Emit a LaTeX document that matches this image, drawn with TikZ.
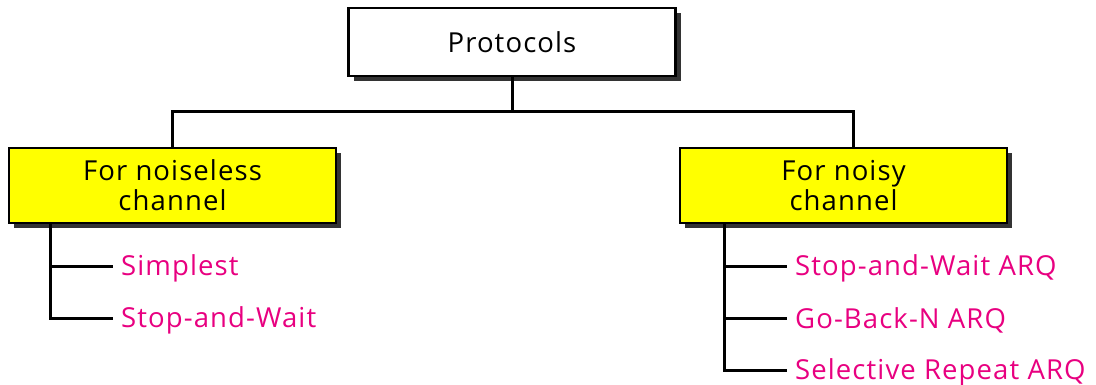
\documentclass[tikz,border=0pt]{standalone}
\usepackage{fontspec}
\setmainfont{Open Sans}[LetterSpace=4]
\usetikzlibrary{shadows}
\definecolor{boxyellow}{RGB}{255,255,0}
\definecolor{itempink}{RGB}{232,0,128}
\begin{document}
\begin{tikzpicture}[x=1pt,y=-1pt,
  box/.style={draw=black, line width=2.2pt, minimum width=327pt, inner sep=0pt,
    align=center, font=\fontsize{27.5}{30}\selectfont,
    drop shadow={shadow xshift=5pt, shadow yshift=-5pt, fill=black!80, opacity=1}},
  item/.style={anchor=west, inner xsep=8pt, inner ysep=0pt, text=itempink,
    font=\fontsize{27.5}{30}\selectfont},
  link/.style={line width=3pt}]
\useasboundingbox (0,0) rectangle (1096,385);
\node[box, fill=white, minimum height=68pt] (proto) at (512,42) {Protocols};
\node[box, fill=boxyellow, minimum height=75pt] (left) at (172.5,185.5) {For noiseless\\channel};
\node[box, fill=boxyellow, minimum height=75pt] (right) at (843.5,185.5) {For noisy\\channel};
\coordinate (bus) at (512,112);
\coordinate (rtop) at ([xshift=9.5pt]right.north);
\draw[link] (proto.south) -- (bus);
\draw[link] (left.north) |- (bus) -| (rtop);
\node[item] (s1) at (113,268) {Simplest};
\node[item] (s2) at (113,320) {Stop-and-Wait};
\node[item] (n1) at (787,268) {Stop-and-Wait ARQ};
\node[item] (n2) at (787,320) {Go-Back-N ARQ};
\node[item] (n3) at (787,372) {Selective Repeat ARQ};
\coordinate (lroot) at ([xshift=43pt]left.south west);
\coordinate (rroot) at ([xshift=46pt]right.south west);
\draw[link] (lroot) |- ([yshift=2pt]s2.west);
\draw[link] (lroot |- 0,266) -- ([yshift=2pt]s1.west);
\draw[link] (rroot) |- ([yshift=2pt]n3.west);
\draw[link] (rroot |- 0,266) -- ([yshift=2pt]n1.west);
\draw[link] (rroot |- 0,318) -- ([yshift=2pt]n2.west);
\end{tikzpicture}
\end{document}
